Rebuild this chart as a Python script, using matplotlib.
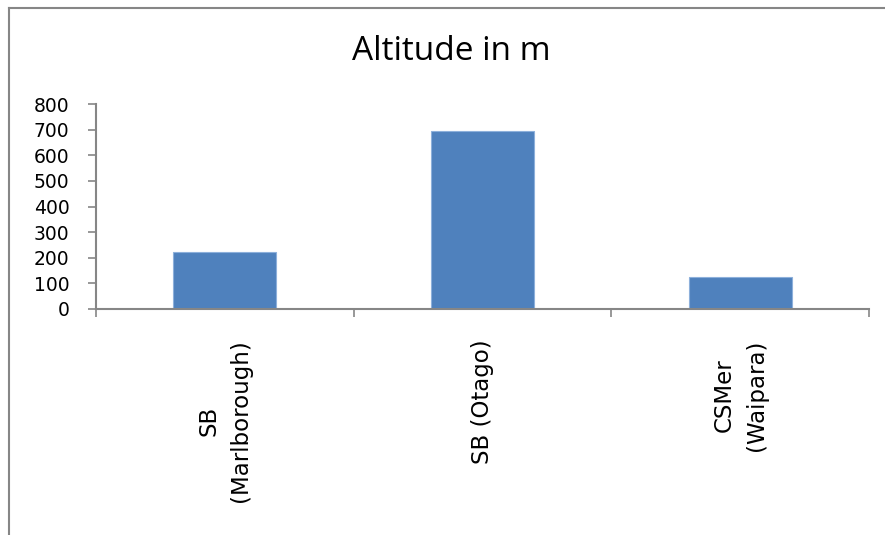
import matplotlib
matplotlib.use("Agg")
import matplotlib.pyplot as plt
from matplotlib.lines import Line2D
from matplotlib.ticker import FixedLocator

sites = ["SB\n(Marlborough)", "SB (Otago)", "CSMer\n(Waipara)"]
altitude = [224, 695, 124]
yticks = [0, 100, 200, 300, 400, 500, 600, 700, 800]

plt.rcParams["font.family"] = ["Open Sans", "DejaVu Sans"]
axis_grey = "#868686"

fig = plt.figure(figsize=(8.85, 5.35), dpi=100)
ax = fig.add_axes([96 / 885, 1 - 309 / 535, (869 - 96) / 885, (309 - 104) / 535])

x = list(range(len(sites)))
ax.bar(x, altitude, width=0.4, color="#4F81BD", edgecolor="#8DB0DB", linewidth=0.8, zorder=2)

ax.set_xlim(-0.5, len(sites) - 0.5)
ax.set_ylim(0, 800)
ax.set_yticks(yticks)
ax.set_yticklabels([str(v) for v in yticks], fontsize=13.5, family="DejaVu Sans")

ax.set_xticks(x)
ax.set_xticklabels(sites, rotation=90, fontsize=16.5, family="DejaVu Sans", ha="center", va="top",
                   multialignment="center", linespacing=1.5)
ax.xaxis.set_minor_locator(FixedLocator([i - 0.5 for i in range(len(sites) + 1)]))
ax.tick_params(axis="x", which="major", length=0, pad=22)
ax.tick_params(axis="x", which="minor", length=6, width=1.2, color=axis_grey, direction="out")
ax.tick_params(axis="y", length=6, width=1.2, color=axis_grey, direction="out", pad=13)

for side in ("top", "right"):
    ax.spines[side].set_visible(False)
for side in ("left", "bottom"):
    ax.spines[side].set_color(axis_grey)
    ax.spines[side].set_linewidth(1.5)

fig.text(451 / 885, 1 - 51 / 535, "Altitude in m", fontsize=24, ha="center", va="center")

# chart-area frame: only its top and left edges fall inside the image
fx, fy = 8.5 / 885, 1 - 7.5 / 535
fig.add_artist(Line2D([fx, 1.05], [fy, fy], transform=fig.transFigure, color=axis_grey, linewidth=1.5))
fig.add_artist(Line2D([fx, fx], [-0.05, fy], transform=fig.transFigure, color=axis_grey, linewidth=1.5))

fig.savefig("out.png", dpi=100)
